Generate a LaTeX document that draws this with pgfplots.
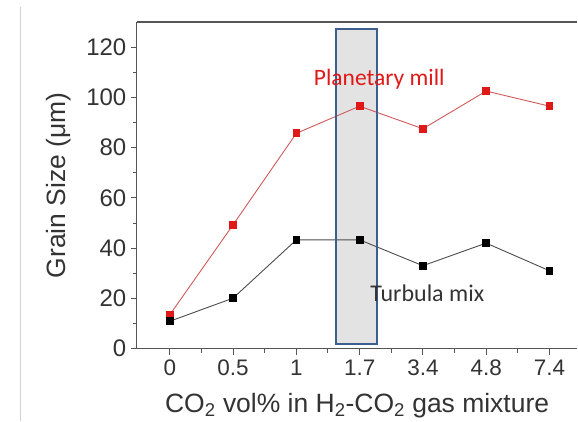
\documentclass[border=0pt]{standalone}
\usepackage{fontspec}
\setmainfont{Liberation Sans}
\newfontfamily\calib{Carlito}
\usepackage{pgfplots}
\pgfplotsset{compat=1.18}
\definecolor{pmred}{HTML}{E01818}
\definecolor{pmline}{HTML}{D05A5A}
\definecolor{axgray}{HTML}{555555}
\definecolor{boxblue}{HTML}{3D5F8F}
\begin{document}
\begin{tikzpicture}
\begin{axis}[
  name=ax,
  scale only axis,
  width=441pt, height=327pt,
  xmin=-0.521, xmax=6.442,
  ymin=0, ymax=130,
  axis x line*=bottom, axis y line*=left,
  axis line style={axgray, line width=1.2pt, -},
  xtick={0,1,2,3,4,5,6},
  xticklabels={0,0.5,1,1.7,3.4,4.8,7.4},
  minor xtick={0.5,1.5,2.5,3.5,4.5,5.5},
  ytick={0,20,40,60,80,100,120},
  minor ytick={10,30,50,70,90,110},
  tick align=outside,
  major tick length=6pt, minor tick length=4pt,
  tick style={axgray, line width=1pt},
  /pgf/number format/assume math mode=true,
  yticklabel style={xshift=-1pt, font=\fontsize{24}{28}\selectfont, text=black!80},
  xticklabel style={yshift=-2pt, font=\fontsize{22.5}{26}\selectfont, text=black!80},
  xlabel={CO\textsubscript{2} vol\% in H\textsubscript{2}-CO\textsubscript{2} gas mixture},
  ylabel={Grain Size (μm)},
  every axis x label/.style={at={(axis description cs:0.5,0)}, anchor=base, yshift=-64pt, font=\fontsize{26.5}{30}\selectfont, text=black!80},
  every axis y label/.style={at={(axis description cs:-0.177,0.5)}, anchor=center, rotate=90, font=\fontsize{26.5}{30}\selectfont, text=black!80},
  clip=false,
]
\fill[gray!22] (axis cs:2.63,1.9) rectangle (axis cs:3.28,127.1);
\addplot[color=pmline, line width=0.9pt, mark=square*, mark size=3.4pt, mark options={fill=pmred, draw=pmred}]
  coordinates {(0,13.5) (1,49.3) (2,85.7) (3,96.5) (4,87.5) (5,102.5) (6,96.5)};
\addplot[color=black!70, line width=0.9pt, mark=square*, mark size=3.4pt, mark options={fill=black, draw=black}]
  coordinates {(0,10.9) (1,20.1) (2,43.3) (3,43.3) (4,33) (5,42) (6,31)};
\draw[boxblue, line width=1.8pt] (axis cs:2.63,1.9) rectangle (axis cs:3.28,127.1);
\node[anchor=base, text=pmred, font=\calib\fontsize{23.5}{28}\selectfont] at (axis cs:3.31,104.9) {Planetary mill};
\node[anchor=base, text=black!80, font=\calib\fontsize{24}{28}\selectfont] at (axis cs:4.07,18.8) {Turbula mix};
\end{axis}
\draw[axgray, line width=1.2pt] (ax.north west) -- (ax.north east);
\draw[gray!35, line width=0.8pt] ([xshift=-117pt, yshift=15pt]ax.north west) -- ([xshift=-117pt, yshift=-72pt]ax.south west);
\path[use as bounding box] ([xshift=-137pt, yshift=-72pt]ax.south west) rectangle ([yshift=22pt]ax.north east);
\end{tikzpicture}
\end{document}
